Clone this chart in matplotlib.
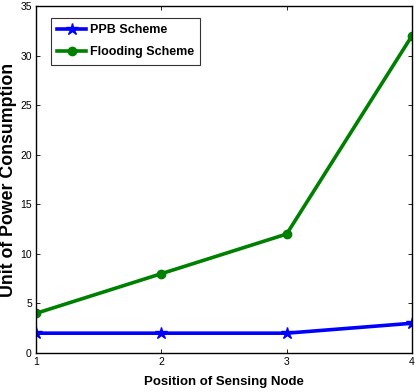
import matplotlib
matplotlib.use('Agg')
import matplotlib.pyplot as plt

position = [1, 2, 3, 4]
ppb = [2, 2, 2, 3]
flooding = [4, 8, 12, 32]

plt.rcParams['font.family'] = ['Liberation Sans Narrow', 'Liberation Sans', 'DejaVu Sans']

fig = plt.figure(figsize=(4.19, 3.92), dpi=100)
ax = fig.add_axes([36 / 419, 1 - 353 / 392, 376 / 419, 347 / 392])

ax.plot(position, ppb, color='#0000ff', lw=2.6, marker='*', ms=9, label='PPB Scheme')
ax.plot(position, flooding, color='#008000', lw=2.6, marker='o', ms=6, label='Flooding Scheme')

ax.set_xlim(1, 4)
ax.set_ylim(0, 35)
ax.set_xticks([1, 2, 3, 4])
ax.set_yticks(range(0, 36, 5))
ax.tick_params(direction='in', top=True, right=True, labelsize=7.5, length=3, width=0.6, pad=3)
for s in ax.spines.values():
    s.set_linewidth(1.0)

ax.set_xlabel('Position of Sensing Node', fontsize=9.5, fontweight='bold', family=['Liberation Sans', 'DejaVu Sans'], labelpad=6)
ax.set_ylabel('Unit of Power Consumption', fontsize=12.8, fontweight='bold', family=['Liberation Sans', 'DejaVu Sans'])
ax.yaxis.set_label_coords(-0.05, 0.5)

leg = ax.legend(loc='upper left', bbox_to_anchor=(0.04, 0.965), fancybox=False, edgecolor='black',
                prop={'weight': 'bold', 'size': 9, 'family': ['Liberation Sans', 'DejaVu Sans']},
                handlelength=2.3, borderpad=0.5, labelspacing=0.8,
                handletextpad=0.3, borderaxespad=0)
leg.get_frame().set_linewidth(0.8)

fig.savefig('out.png', dpi=100)
